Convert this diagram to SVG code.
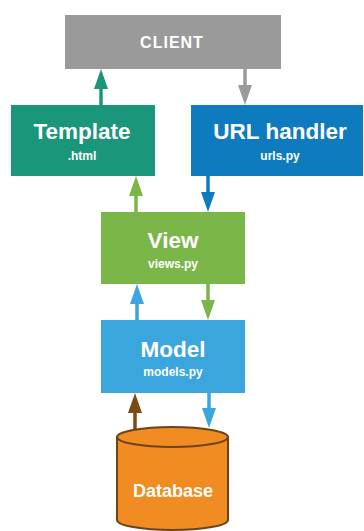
<svg xmlns="http://www.w3.org/2000/svg" width="364" height="531" viewBox="0 0 364 531">
  <style>
    text { font-family: "Liberation Sans", "DejaVu Sans", Arial, sans-serif; font-weight: bold; fill: #ffffff; text-anchor: middle; }
    .title { font-size: 22.5px; }
    .sub { font-size: 12px; }
    .shaft { stroke-width: 3.5; fill: none; }
  </style>
  <rect width="364" height="531" fill="#ffffff"/>

  <!-- connectors -->
  <g id="connectors">
    <!-- Template -> Client -->
    <g>
      <line class="shaft" x1="101" y1="105" x2="101" y2="85" stroke="#1a967a"/>
      <polygon points="101,69 94,89 108,89" fill="#1a967a"/>
    </g>
    <!-- Client -> URL handler -->
    <g>
      <line class="shaft" x1="245" y1="69" x2="245" y2="89" stroke="#9a9a9a"/>
      <polygon points="245,105 238,85 252,85" fill="#9a9a9a"/>
    </g>
    <!-- View -> Template -->
    <g>
      <line class="shaft" x1="136" y1="212" x2="136" y2="192" stroke="#7ab648"/>
      <polygon points="136,176 129,196 143,196" fill="#7ab648"/>
    </g>
    <!-- URL handler -> View -->
    <g>
      <line class="shaft" x1="208" y1="176" x2="208" y2="196" stroke="#0e7bbf"/>
      <polygon points="208,212 201,192 215,192" fill="#0e7bbf"/>
    </g>
    <!-- Model -> View -->
    <g>
      <line class="shaft" x1="137" y1="320" x2="137" y2="300" stroke="#3ba5dd"/>
      <polygon points="137,284 130,304 144,304" fill="#3ba5dd"/>
    </g>
    <!-- View -> Model -->
    <g>
      <line class="shaft" x1="208" y1="284" x2="208" y2="304" stroke="#7ab648"/>
      <polygon points="208,320 201,300 215,300" fill="#7ab648"/>
    </g>
    <!-- Database -> Model -->
    <g>
      <line class="shaft" x1="135" y1="430" x2="135" y2="409" stroke="#7a4b14"/>
      <polygon points="135,393 128,413 142,413" fill="#7a4b14"/>
    </g>
    <!-- Model -> Database -->
    <g>
      <line class="shaft" x1="209" y1="393" x2="209" y2="412" stroke="#3ba5dd"/>
      <polygon points="209,428 202,408 216,408" fill="#3ba5dd"/>
    </g>
  </g>

  <!-- nodes -->
  <g id="client">
    <rect x="65" y="15" width="216" height="54" fill="#9a9a9a"/>
    <text x="172" y="48" style="font-size:16px; letter-spacing:1px">CLIENT</text>
  </g>

  <g id="template">
    <rect x="11" y="105" width="144" height="71" fill="#1a967a"/>
    <text class="title" x="82" y="139">Template</text>
    <text class="sub" x="82" y="160">.html</text>
  </g>

  <g id="url-handler">
    <rect x="191" y="105" width="172" height="71" fill="#0e7bbf"/>
    <text class="title" x="280" y="139">URL handler</text>
    <text class="sub" x="280" y="160">urls.py</text>
  </g>

  <g id="view">
    <rect x="101" y="212" width="144" height="72" fill="#7ab648"/>
    <text class="title" x="173" y="248">View</text>
    <text class="sub" x="173" y="268">views.py</text>
  </g>

  <g id="model">
    <rect x="101" y="320" width="144" height="73" fill="#3ba5dd"/>
    <text class="title" x="173" y="357">Model</text>
    <text class="sub" x="173" y="376">models.py</text>
  </g>

  <g id="database">
    <path d="M117,437 L117,520 A55.5,10 0 0 0 228,520 L228,437" fill="#f08c22" stroke="#6b4418" stroke-width="2"/>
    <ellipse cx="172.5" cy="437" rx="55.5" ry="10" fill="#f08c22" stroke="#6b4418" stroke-width="2"/>
    <text x="173" y="497" style="font-size:18px">Database</text>
  </g>
</svg>
